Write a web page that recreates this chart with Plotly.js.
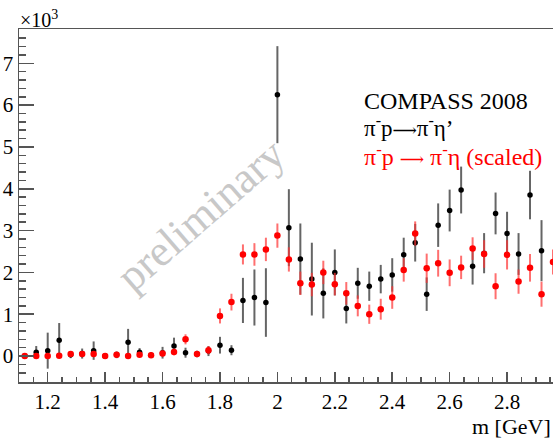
<!DOCTYPE html>
<html>
<head>
<meta charset="utf-8">
<script src="https://cdn.plot.ly/plotly-3.0.1.min.js"></script>
<style>html,body{margin:0;padding:0;background:#fff;overflow:hidden;}#chart{width:553px;height:440px;}</style>
</head>
<body>
<div id="chart"></div>
<script>
// mass bin centres [GeV]
const mass = [1.12,1.16,1.20,1.24,1.28,1.32,1.36,1.40,1.44,1.48,1.52,1.56,1.60,1.64,1.68,1.72,1.76,1.80,1.84,1.88,
              1.92,1.96,2.00,2.04,2.08,2.12,2.16,2.20,2.24,2.28,2.32,2.36,2.40,2.44,2.48,2.52,2.56,2.60,2.64,2.68,
              2.72,2.76,2.80,2.84,2.88,2.92,2.96];
// pi- p -> pi- eta' (x10^3)
const etaPrime = [0.00,0.09,0.13,0.38,0.03,0.06,0.13,0.00,0.03,0.33,0.09,0.02,0.08,0.24,0.08,0.05,0.12,0.26,0.14,1.33,
                  1.40,1.28,6.25,3.07,2.32,1.84,1.50,2.00,1.14,1.74,1.67,1.84,1.94,2.42,2.71,1.48,3.13,3.48,3.97,2.15,
                  2.46,3.41,2.93,2.44,3.85,2.52,null];
const etaPrimeErr = [0.05,0.15,0.43,0.41,0.08,0.12,0.22,0.05,0.08,0.32,0.10,0.06,0.14,0.20,0.12,0.08,0.12,0.20,0.12,0.54,
                     0.67,0.82,1.16,0.92,0.85,0.87,0.60,0.55,0.36,0.37,0.35,0.34,0.40,0.41,0.45,0.40,0.52,0.50,0.56,0.44,
                     0.48,0.50,0.52,0.50,0.58,0.73,null];
// pi- p -> pi- eta (scaled, x10^3)
const etaScaled = [0.00,0.00,0.00,0.01,0.05,0.05,0.05,0.00,0.03,0.00,0.03,0.02,0.06,0.10,0.40,0.05,0.14,0.96,1.29,2.43,
                   2.43,2.55,2.88,2.31,1.74,1.71,2.00,1.72,1.50,1.20,1.00,1.12,1.40,2.06,2.93,2.10,2.22,1.99,2.12,2.57,
                   2.44,1.67,2.42,1.78,2.11,1.48,2.25];
const etaScaledErr = [0.05,0.05,0.05,0.05,0.06,0.06,0.06,0.05,0.06,0.05,0.06,0.06,0.07,0.08,0.12,0.07,0.10,0.18,0.20,0.24,
                      0.27,0.28,0.29,0.29,0.28,0.28,0.28,0.27,0.27,0.25,0.23,0.25,0.27,0.28,0.29,0.35,0.32,0.32,0.28,0.27,
                      0.33,0.31,0.35,0.29,0.33,0.30,0.30];
const xTickVals = [1.2,1.4,1.6,1.8,2.0,2.2,2.4,2.6,2.8];
const xTickText = ['1.2','1.4','1.6','1.8','2','2.2','2.4','2.6','2.8'];
const yTickVals = [0,1,2,3,4,5,6,7];

const serif = '"Liberation Serif", "Times New Roman", serif';

const traces = [
  {
    x: mass, y: etaPrime, type: 'scatter', mode: 'markers', name: "π⁻p → π⁻η’",
    marker: {color: '#000', size: 5.5},
    error_y: {type: 'data', array: etaPrimeErr, visible: true, color: 'rgba(50,50,50,0.75)', thickness: 2, width: 0}
  },
  {
    x: mass, y: etaScaled, type: 'scatter', mode: 'markers', name: 'π⁻p → π⁻η (scaled)',
    marker: {color: '#ff0000', size: 6.5},
    error_y: {type: 'data', array: etaScaledErr, visible: true, color: 'rgba(255,50,50,0.7)', thickness: 2, width: 0}
  }
];

const arrowSpan = '<span style="font-family:DejaVu Serif;font-size:17px">⟶</span>';

const layout = {
  width: 553, height: 440,
  margin: {l: 19, r: 0, t: 29, b: 58},
  paper_bgcolor: '#fff', plot_bgcolor: '#fff',
  showlegend: false,
  font: {family: serif, color: '#000', size: 20},
  xaxis: {
    range: [1.1, 2.96], showgrid: false, zeroline: false,
    showline: true, linecolor: '#555', linewidth: 1.5, mirror: true,
    ticks: 'inside', ticklen: 10, tickwidth: 1.5, tickcolor: '#555',
    tickmode: 'array', tickvals: xTickVals, ticktext: xTickText,
    tickfont: {family: serif, size: 21, color: '#000'},
    minor: {dtick: 0.05, tick0: 1.1, ticks: 'inside', ticklen: 5, tickwidth: 1.5, tickcolor: '#555', showgrid: false}
  },
  yaxis: {
    range: [-0.62, 7.82], showgrid: false, zeroline: false,
    showline: true, linecolor: '#555', linewidth: 1.5,
    ticks: 'inside', ticklen: 15, tickwidth: 1.5, tickcolor: '#555',
    tickmode: 'array', tickvals: yTickVals,
    tickfont: {family: serif, size: 21, color: '#000'},
    minor: {dtick: 0.2, tick0: 0, ticks: 'inside', ticklen: 7, tickwidth: 1.5, tickcolor: '#555', showgrid: false}
  },
  annotations: [
    {xref: 'paper', yref: 'paper', x: 0.339, y: 0.473, text: 'preliminary', showarrow: false,
     textangle: -41, font: {family: serif, size: 44, color: '#c8c8c8'}},
    {xref: 'paper', yref: 'paper', x: -0.002, y: 1.028, xanchor: 'left', yanchor: 'middle', showarrow: false,
     text: '×10<sup>3</sup>', font: {family: serif, size: 20, color: '#000'}},
    {xref: 'paper', yref: 'paper', x: 1.0, y: -0.127, xanchor: 'right', yanchor: 'middle', showarrow: false,
     text: 'm [GeV]', font: {family: serif, size: 22, color: '#000'}},
    {xref: 'paper', yref: 'paper', x: 0.642, y: 0.796, xanchor: 'left', yanchor: 'middle', showarrow: false,
     text: 'COMPASS 2008', font: {family: serif, size: 24, color: '#000'}},
    {xref: 'paper', yref: 'paper', x: 0.642, y: 0.724, xanchor: 'left', yanchor: 'middle', showarrow: false,
     text: "π<sup>-</sup>p" + arrowSpan + "π<sup>-</sup>η’", font: {family: serif, size: 23, color: '#000'}},
    {xref: 'paper', yref: 'paper', x: 0.642, y: 0.643, xanchor: 'left', yanchor: 'middle', showarrow: false,
     text: 'π<sup>-</sup>p ' + arrowSpan + ' π<sup>-</sup>η (scaled)', font: {family: serif, size: 24, color: '#ff0000'}}
  ]
};

Plotly.newPlot('chart', traces, layout, {staticPlot: true, displayModeBar: false});
</script>
</body>
</html>
